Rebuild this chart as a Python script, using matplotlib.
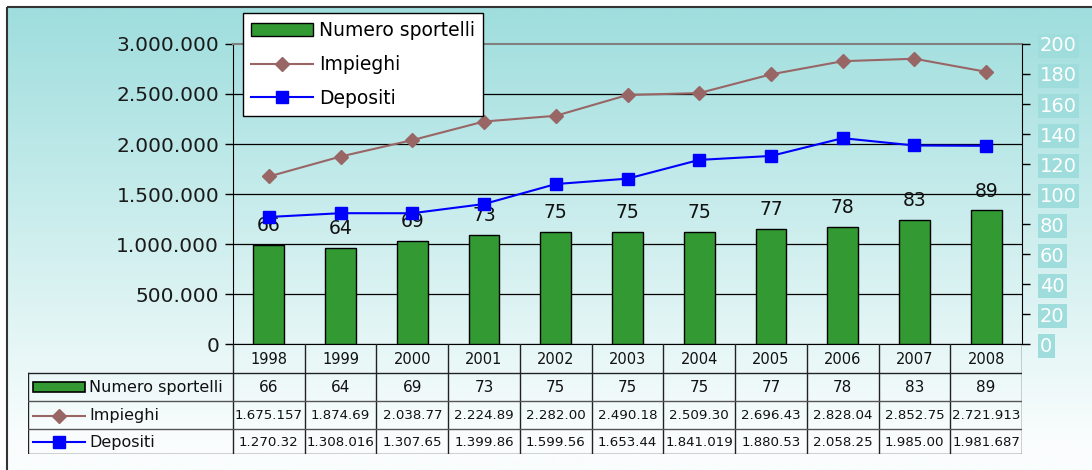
import numpy as np
import matplotlib
matplotlib.use('Agg')
import matplotlib.pyplot as plt
from matplotlib.ticker import FuncFormatter
from matplotlib.patches import Rectangle

years = ['1998', '1999', '2000', '2001', '2002', '2003', '2004', '2005', '2006', '2007', '2008']
sportelli = [66, 64, 69, 73, 75, 75, 75, 77, 78, 83, 89]
impieghi = [1675157, 1874690, 2038770, 2224890, 2282000, 2490180, 2509300, 2696430, 2828040, 2852750, 2721913]
depositi = [1270320, 1308016, 1307650, 1399860, 1599560, 1653440, 1841019, 1880530, 2058250, 1985000, 1981687]
# testi della tabella, come appaiono (alcuni troncati)
impieghi_txt = ['1.675.157', '1.874.69', '2.038.77', '2.224.89', '2.282.00', '2.490.18',
                '2.509.30', '2.696.43', '2.828.04', '2.852.75', '2.721.913']
depositi_txt = ['1.270.32', '1.308.016', '1.307.65', '1.399.86', '1.599.56', '1.653.44',
                '1.841.019', '1.880.53', '2.058.25', '1.985.00', '1.981.687']
serie = ['Numero sportelli', 'Impieghi', 'Depositi']

c_bar = '#339933'
c_imp = '#996666'
c_dep = '#0000ff'

W, H = 1092, 470
fig = plt.figure(figsize=(W / 100, H / 100), dpi=100)

# sfondo sfumato + cornice
bg = fig.add_axes([0, 0, 1, 1])
bg.set_xlim(0, W)
bg.set_ylim(H, 0)
bg.axis('off')
t = np.clip((np.arange(H) - 7) / 433.0, 0, 1)
top = np.array([160, 222, 222]) / 255
bot = np.array([250, 253, 253]) / 255
grad = top[None, :] * (1 - t[:, None]) + bot[None, :] * t[:, None]
bg.imshow(grad[:, None, :], extent=(7, W + 5, H, 7), aspect='auto', zorder=0)
bg.add_patch(Rectangle((7, 7), W, H, fill=False, ec='#333333', lw=1.5, zorder=1))

x = np.arange(len(years))

# asse sinistro (griglia)
ax = fig.add_axes([233 / W, (H - 344) / H, 789 / W, 300 / H])
ax.patch.set_visible(False)
ax.set_xlim(-0.5, 10.5)
ax.set_ylim(0, 3000000)
ax.set_yticks(np.arange(0, 3000001, 500000))
ax.yaxis.set_major_formatter(FuncFormatter(lambda v, p: f'{v:,.0f}'.replace(',', '.')))
ax.set_xticks([])
ax.tick_params(axis='y', direction='out', length=6, width=1, labelsize=14.5, pad=4, labelcolor='#1a1a1a')
ax.yaxis.grid(True, color='black', lw=0.9)
ax.get_ygridlines()[-1].set_visible(False)
ax.spines['top'].set_color('#808080')
ax.spines['top'].set_linewidth(1.5)
ax.spines['right'].set_visible(False)

# asse destro (barre)
axb = ax.twinx()
axb.set_ylim(0, 200)
axb.set_yticks(range(0, 201, 20))
bars = axb.bar(x, sportelli, width=0.43, color=c_bar, edgecolor='black', lw=1)
axb.bar_label(bars, padding=7, fontsize=13.5, color='#111111')
axb.tick_params(axis='y', direction='out', length=6, width=1, labelsize=14, pad=7, labelcolor='white')
for lbl in axb.get_yticklabels():
    lbl.set_bbox(dict(boxstyle='square,pad=0.12', fc='#9fdcdc', ec='none'))
for s in ['top', 'left', 'bottom']:
    axb.spines[s].set_visible(False)

# linee
axl = ax.twinx()
axl.set_ylim(0, 3000000)
axl.set_yticks([])
for s in axl.spines.values():
    s.set_visible(False)
l1, = axl.plot(x, impieghi, color=c_imp, lw=1.5, marker='D', ms=7.5)
l2, = axl.plot(x, depositi, color=c_dep, lw=1.5, marker='s', ms=8.5)

leg = fig.legend([bars, l1, l2], serie, loc='upper left', bbox_to_anchor=(243 / W, 1 - 13 / H),
                 fontsize=13.5, frameon=True, fancybox=False, edgecolor='black', framealpha=1,
                 borderaxespad=0, handlelength=3.3, labelspacing=0.78, borderpad=0.45,
                 handletextpad=0.3)
leg.get_frame().set_linewidth(1)

# tabella dati
cw = 789 / 11
L = -0.5 - 205 / cw
tax = fig.add_axes([28 / W, (H - 454) / H, (1022 - 28) / W, (454 - 344) / H])
tax.set_xlim(L, 10.5)
tax.set_ylim(454, 344)
tax.axis('off')
for i in range(12):
    tax.plot([i - 0.5, i - 0.5], [344, 454], color='#222222', lw=1)
tax.plot([L, L], [373, 454], color='#222222', lw=1)
tax.plot([L, 10.5], [373, 373], color='#222222', lw=1)
tax.plot([L, 10.5], [401, 401], color='#555555', lw=1)
tax.plot([L, 10.5], [429, 429], color='#555555', lw=1)
tax.plot([L, 10.5], [454, 454], color='#222222', lw=1)

for i in x:
    tax.text(i, 359, years[i], ha='center', va='center', fontsize=10.5, color='#111111')
    tax.text(i, 387.5, str(sportelli[i]), ha='center', va='center', fontsize=11, color='#111111')
    tax.text(i, 415.5, impieghi_txt[i], ha='center', va='center', fontsize=9.6, color='#111111')
    tax.text(i, 442, depositi_txt[i], ha='center', va='center', fontsize=9.6, color='#111111')

x0, x1 = L + 5 / cw, L + 57 / cw
mid = (x0 + x1) / 2
tax.add_patch(Rectangle((x0, 382), x1 - x0, 10, fc=c_bar, ec='black', lw=1.2))
tax.plot([x0, x1], [415.5, 415.5], color=c_imp, lw=1.5)
tax.plot([mid], [415.5], color=c_imp, marker='D', ms=7.5)
tax.plot([x0, x1], [442, 442], color=c_dep, lw=1.5)
tax.plot([mid], [442], color=c_dep, marker='s', ms=8.5)
for r, yc in zip(serie, [387.5, 415.5, 442]):
    tax.text(L + 61 / cw, yc, r, ha='left', va='center', fontsize=11.5, color='#111111')

plt.savefig('out.png', dpi=100)
